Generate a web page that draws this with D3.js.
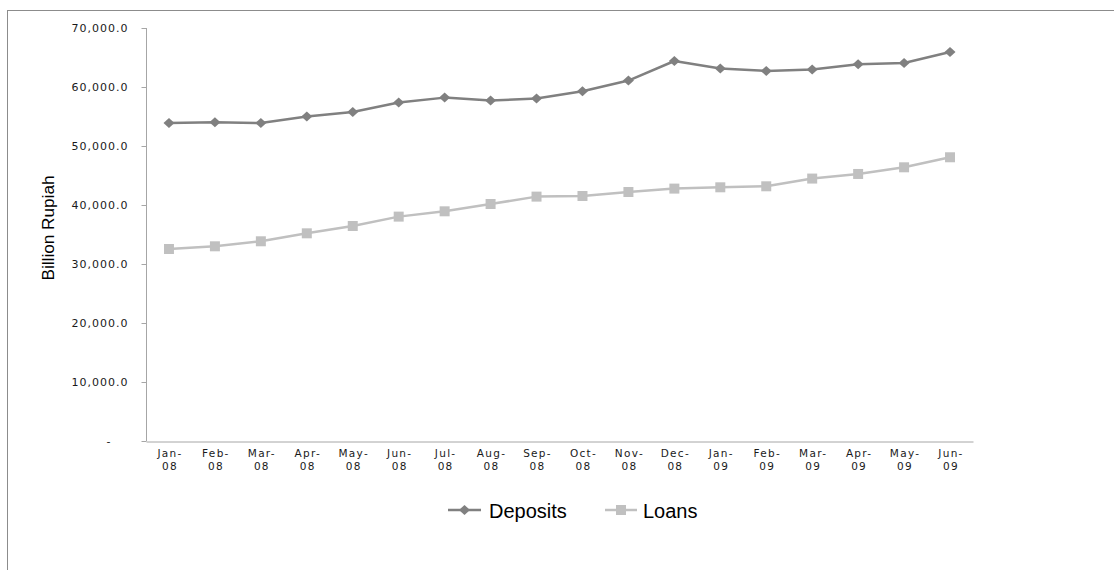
<!DOCTYPE html>
<html><head><meta charset="utf-8">
<script src="https://cdn.jsdelivr.net/npm/d3@7"></script>
<style>body{margin:0;background:#fff;} svg{display:block;}</style>
</head><body>
<script>
const categories = ["Jan-08","Feb-08","Mar-08","Apr-08","May-08","Jun-08","Jul-08","Aug-08","Sep-08","Oct-08","Nov-08","Dec-08","Jan-09","Feb-09","Mar-09","Apr-09","May-09","Jun-09"];
const deposits = [53900,54020,53900,54990,55770,57360,58200,57700,58040,59270,61090,64410,63120,62720,62950,63850,64070,65940];
const loans = [32540,33000,33850,35200,36440,38030,38930,40170,41420,41530,42200,42780,43000,43170,44480,45260,46390,48090];
const yTicks = [0,10000,20000,30000,40000,50000,60000,70000];
const seriesNames = ["Deposits","Loans"];

const W = 1114, H = 570;
const svg = d3.select("body").append("svg").attr("width", W).attr("height", H);

// outer frame
svg.append("rect").attr("x", 7.5).attr("y", 10.5).attr("width", W + 20).attr("height", H + 20)
  .attr("fill", "none").attr("stroke", "#8c8c8c").attr("stroke-width", 1);

const x = d3.scaleBand().domain(categories).range([146, 973]);
const y = d3.scaleLinear().domain([0, 70000]).range([441, 28]);

const axisColor = "#a6a6a6";
const fontTick = "'DejaVu Sans', Verdana, sans-serif";

// y axis
const yAxis = svg.append("g").attr("transform", "translate(146.5,0)")
  .call(d3.axisLeft(y).tickValues(yTicks).tickSize(5).tickPadding(13)
    .tickFormat(d => d === 0 ? "-" : d3.format(",.1f")(d)));
yAxis.select(".domain").attr("stroke", axisColor).attr("d", `M0,${y(70000)}V${y(0)}`);
yAxis.selectAll(".tick line").attr("stroke", axisColor);
yAxis.selectAll(".tick text").attr("fill", "#1a1a1a").style("font-family", fontTick)
  .style("font-size", "11px").style("letter-spacing", "1px");
yAxis.selectAll(".tick").filter(d => d === 0).select("text").attr("x", -35);

// x axis
const xAxis = svg.append("g").attr("transform", `translate(0,${y(0) + 0.5})`)
  .call(d3.axisBottom(x).tickSize(0).tickFormat(""));
xAxis.select(".domain").attr("stroke", axisColor);
const xl = svg.append("g");
categories.forEach(c => {
  const parts = c.split("-");
  const t = xl.append("text").attr("text-anchor", "middle").attr("fill", "#1a1a1a")
    .style("font-family", fontTick).style("font-size", "10.5px").style("letter-spacing", "1.3px");
  t.append("tspan").attr("x", x(c) + x.bandwidth() / 2 + 1).attr("y", 457).text(parts[0] + "-");
  t.append("tspan").attr("x", x(c) + x.bandwidth() / 2 + 1).attr("y", 470).text(parts[1]);
});

// y title
svg.append("text").attr("transform", "translate(54,228) rotate(-90)")
  .attr("text-anchor", "middle").attr("fill", "#000")
  .style("font-family", "'Liberation Sans', Arial, sans-serif").style("font-size", "16px")
  .attr("textLength", 105).attr("lengthAdjust", "spacingAndGlyphs")
  .text("Billion Rupiah");

const cx = c => x(c) + x.bandwidth() / 2;
const line = d3.line().x((d, i) => cx(categories[i])).y(d => y(d));
const colors = ["#808080", "#c0c0c0"];
const diamond = "M0,-5L5.5,0L0,5L-5.5,0Z";
const square = "M-5,-5H5V5H-5Z";

[deposits, loans].forEach((data, si) => {
  svg.append("path").datum(data).attr("d", line).attr("fill", "none")
    .attr("stroke", colors[si]).attr("stroke-width", 2.5).attr("stroke-linejoin", "round");
  svg.append("g").selectAll("path").data(data).join("path")
    .attr("d", si === 0 ? diamond : square)
    .attr("transform", (d, i) => `translate(${cx(categories[i])},${y(d)})`)
    .attr("fill", colors[si]);
});

// legend
const legend = [
  {name: seriesNames[0], x1: 448, x2: 481, tx: 489, shape: diamond, color: colors[0]},
  {name: seriesNames[1], x1: 605, x2: 637, tx: 643, shape: square, color: colors[1]}
];
legend.forEach(l => {
  svg.append("line").attr("x1", l.x1).attr("x2", l.x2).attr("y1", 510).attr("y2", 510)
    .attr("stroke", l.color).attr("stroke-width", 2.5);
  svg.append("path").attr("d", l.shape).attr("transform", `translate(${(l.x1 + l.x2) / 2},510)`).attr("fill", l.color);
  svg.append("text").attr("x", l.tx).attr("y", 518).attr("fill", "#000")
    .style("font-family", "'Liberation Sans', Arial, sans-serif").style("font-size", "20px").text(l.name);
});
</script>
</body></html>
